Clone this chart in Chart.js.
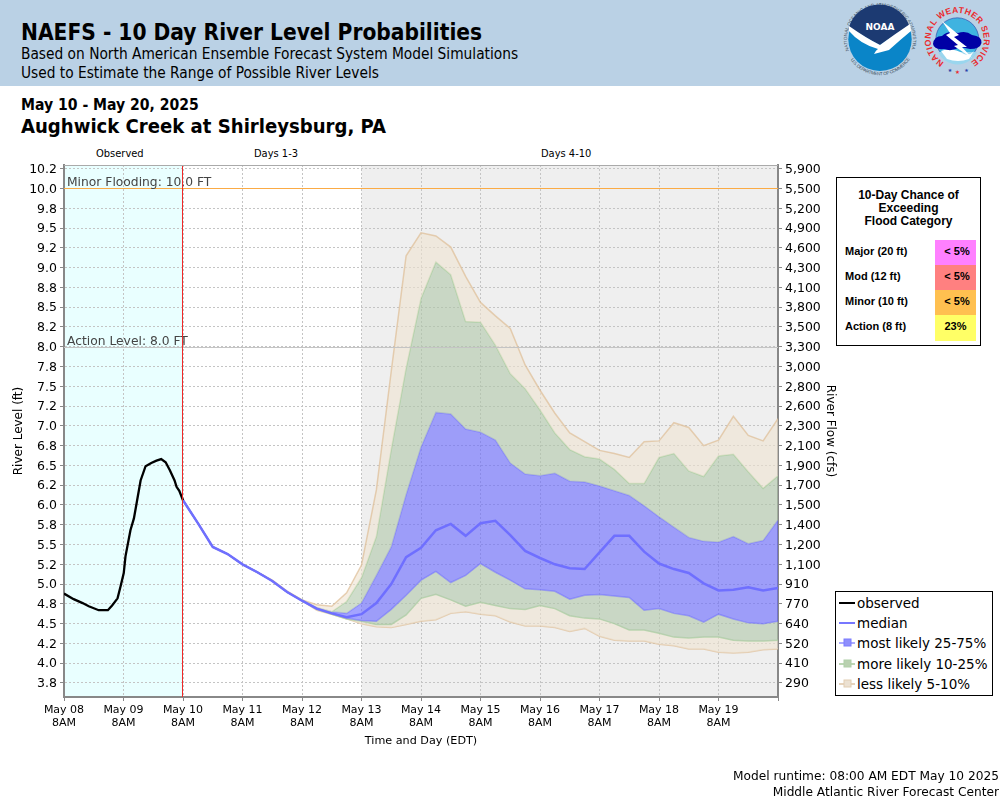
<!DOCTYPE html>
<html>
<head>
<meta charset="utf-8">
<script src="https://cdn.jsdelivr.net/npm/chart.js@4"></script>
<style>
  html, body { margin: 0; padding: 0; background: #fff; }
  #page { position: relative; width: 1000px; height: 800px; overflow: hidden; font-family: "DejaVu Sans", sans-serif; color: #000; }
  #page > div, #page > svg, #page > canvas { position: absolute; }
  #banner { left: 0; top: 0; width: 1000px; height: 86px; background: #bad1e5; }
  .t { white-space: nowrap; line-height: 1; }
  .cond { font-family: "DejaVu Sans Condensed", "DejaVu Sans", sans-serif; font-stretch: condensed; }
  #chance { left: 836px; top: 177px; width: 143px; height: 167px; border: 1px solid #000; background: #fff; font-family: "Liberation Sans", Arial, sans-serif; font-weight: bold; }
  #chance .head { position: absolute; left: 0; width: 100%; top: 11px; text-align: center; font-size: 12px; line-height: 13px; }
  #chance .lab { position: absolute; left: 8px; font-size: 11px; line-height: 23px; height: 25px; }
  #chance .val { position: absolute; left: 98px; width: 41px; height: 25px; font-size: 11px; line-height: 23px; text-align: center; text-indent: 3px; }
  #legend { left: 835px; top: 591px; width: 156px; height: 103px; border: 1px solid #000; background: #fff; font-size: 13.5px; }
  #legend .row { position: absolute; left: 3px; height: 20px; line-height: 20px; white-space: nowrap; }
  #legend svg { position: absolute; left: 0; top: 2px; }
  #legend span { position: absolute; left: 18px; }
</style>
</head>
<body>
<div id="page">
  <div id="banner"></div>
  <div class="t cond" style="left:21px;top:21px;font-size:22.5px;font-weight:bold">NAEFS - 10 Day River Level Probabilities</div>
  <div class="t cond" style="left:21px;top:47px;font-size:15.3px">Based on North American Ensemble Forecast System Model Simulations</div>
  <div class="t cond" style="left:21px;top:66px;font-size:15.3px">Used to Estimate the Range of Possible River Levels</div>

  <svg style="left:840px;top:0" width="160" height="86" viewBox="0 0 160 86">
    <defs>
      <path id="noaaTop" d="M9 50.6 A33 33 0 1 1 71.9 47.8"/>
      <path id="noaaBottom" d="M10.5 59.9 A36 36 0 0 0 69.5 59.9"/>
      <path id="nwsRing" d="M104 62.3 A26.5 26.5 0 1 1 130.5 62.3"/>
    </defs>
    <text font-family="Liberation Sans" font-size="4.6" fill="#44525f"><textPath href="#noaaTop" textLength="136">NATIONAL OCEANIC AND ATMOSPHERIC ADMINISTRATION</textPath></text>
    <text font-family="Liberation Sans" font-size="4.6" fill="#44525f"><textPath href="#noaaBottom" textLength="70">U.S. DEPARTMENT OF COMMERCE</textPath></text>
    <circle cx="40" cy="39.3" r="31.7" fill="#0a85c8"/>
    <path d="M9 27 A31.7 31.7 0 0 1 70 28 Q55 34 40 45 Q26 38 9 27 Z" fill="#1c3a72"/>
    <path d="M9 26 Q26 38 40 45 Q55 34 70 24 L71 31 Q60 40 49 50 L34 54 Q36 50 38 49 Q20 44 9 31 Z" fill="#fff"/>
    <text x="40" y="30" text-anchor="middle" font-family="DejaVu Sans" font-weight="bold" font-size="9" fill="#fff">NOAA</text>

    <text font-family="Liberation Sans" font-weight="bold" font-size="8.6" fill="#ea2a2e"><textPath href="#nwsRing" textLength="138">NATIONAL WEATHER SERVICE</textPath></text>
    <circle cx="117.3" cy="39.3" r="21.5" fill="#3fb3e0" stroke="#2a3fa8" stroke-width="0.6"/>
    <path d="M98 52 L137 52 A21.5 21.5 0 0 1 98 52 Z" fill="#9ad6ee"/>
    <path d="M101 51 Q112 47 124 54 Q130 56 134 51 L129 59 Q118 63 107 59 Z" fill="#fff"/>
    <path d="M93 44 Q94 36 102 36 Q108 30 118 33 Q126 30 132 35 Q142 36 141.5 43 Q140 49 130 49 L120 47 Q112 52 104 49 Q94 50 93 44 Z" fill="#0000a5"/>
    <path d="M102 21 L119 35 L114 37 L127 47 L122 47 L132 58 L114 46 L118 45 L106 35 L110 33 Z" fill="#fff"/>
    <text x="110" y="72" font-size="5" fill="#2a3fa8" text-anchor="middle">★</text>
    <text x="117.5" y="73.5" font-size="5.5" fill="#ea2a2e" text-anchor="middle">★</text>
    <text x="126.5" y="72" font-size="5" fill="#2a3fa8" text-anchor="middle">★</text>
  </svg>

  <div class="t cond" style="left:21px;top:98px;font-size:15.6px;font-weight:bold">May 10 - May 20, 2025</div>
  <div class="t cond" style="left:21px;top:116px;font-size:20.1px;font-weight:bold">Aughwick Creek at Shirleysburg, PA</div>

  <div class="t cond" style="left:96px;top:148px;font-size:11px">Observed</div>
  <div class="t cond" style="left:254px;top:148px;font-size:11px">Days 1-3</div>
  <div class="t cond" style="left:541px;top:148px;font-size:11px">Days 4-10</div>

  <canvas id="chart" width="1000" height="800" style="left:0;top:0;width:1000px;height:800px"></canvas>

  <div id="chance">
    <div class="head">10-Day Chance of<br>Exceeding<br>Flood Category</div>
    <div class="lab" style="top:62px">Major (20 ft)</div><div class="val" style="top:62px;background:#ff80ff">&lt; 5%</div>
    <div class="lab" style="top:87px">Mod (12 ft)</div><div class="val" style="top:87px;background:#ff8080">&lt; 5%</div>
    <div class="lab" style="top:112px">Minor (10 ft)</div><div class="val" style="top:112px;background:#ffc050">&lt; 5%</div>
    <div class="lab" style="top:137px">Action (8 ft)</div><div class="val" style="top:137px;height:26px;background:#ffff66;text-indent:0">23%</div>
  </div>

  <div id="legend">
    <div class="row" style="top:1px"><svg width="16" height="16"><line x1="0" y1="8" x2="16" y2="8" stroke="#000" stroke-width="2"/></svg><span>observed</span></div>
    <div class="row" style="top:21px"><svg width="16" height="16"><line x1="0" y1="8" x2="16" y2="8" stroke="#7777ff" stroke-width="2"/></svg><span>median</span></div>
    <div class="row" style="top:41px"><svg width="16" height="16"><line x1="0" y1="8" x2="16" y2="8" stroke="#aaaaff" stroke-width="2"/><rect x="5" y="4" width="7" height="7" fill="#8f8ffc" stroke="#7c7cff"/></svg><span>most likely 25-75%</span></div>
    <div class="row" style="top:62px"><svg width="16" height="16"><line x1="0" y1="8" x2="16" y2="8" stroke="#bcd6b4" stroke-width="2"/><rect x="5" y="4" width="7" height="7" fill="#b9d1b0" stroke="#b0cfa8"/></svg><span>more likely 10-25%</span></div>
    <div class="row" style="top:82px"><svg width="16" height="16"><line x1="0" y1="8" x2="16" y2="8" stroke="#e6d3bc" stroke-width="2"/><rect x="5" y="4" width="7" height="7" fill="#ece1d2" stroke="#e2cdb2"/></svg><span>less likely 5-10%</span></div>
  </div>

  <div class="t" style="right:1px;top:770px;font-size:12.2px">Model runtime: 08:00 AM EDT May 10 2025</div>
  <div class="t" style="right:1px;top:786px;font-size:12.2px">Middle Atlantic River Forecast Center</div>
</div>

<script>
const dayLabels = ["May 08", "May 09", "May 10", "May 11", "May 12", "May 13", "May 14", "May 15", "May 16", "May 17", "May 18", "May 19", ""];
const levelTicks = [10.25, 10, 9.75, 9.5, 9.25, 9, 8.75, 8.5, 8.25, 8, 7.75, 7.5, 7.25, 7, 6.75, 6.5, 6.25, 6, 5.75, 5.5, 5.25, 5, 4.75, 4.5, 4.25, 4, 3.75];
const levelLabels = ["10.2", "10.0", "9.8", "9.5", "9.2", "9.0", "8.8", "8.5", "8.2", "8.0", "7.8", "7.5", "7.2", "7.0", "6.8", "6.5", "6.2", "6.0", "5.8", "5.5", "5.2", "5.0", "4.8", "4.5", "4.2", "4.0", "3.8"];
const flowLabels = ["5,900", "5,500", "5,200", "4,900", "4,600", "4,300", "4,100", "3,800", "3,500", "3,300", "3,000", "2,800", "2,600", "2,300", "2,100", "1,900", "1,700", "1,500", "1,400", "1,200", "1,100", "910", "770", "640", "520", "410", "290"];

// hours after May 08 8AM
const obsHours = [0, 3.9, 7.5, 10, 14, 17.7, 19.4, 21.6, 22.8, 24.1, 24.8, 26.8, 28.2, 29.5, 30.9, 32.9, 35.2, 37.3, 39.2, 41, 42.7, 44.6, 45.4, 46.5, 48];
const observed = [4.88, 4.81, 4.76, 4.72, 4.67, 4.67, 4.73, 4.82, 4.97, 5.14, 5.35, 5.68, 5.83, 6.06, 6.31, 6.49, 6.53, 6.56, 6.58, 6.54, 6.44, 6.31, 6.23, 6.18, 6.06];

const fcstHours = [48, 54, 60, 66, 72, 78, 84, 90, 96, 102, 108, 114, 120, 126, 132, 138, 144, 150, 156, 162, 168, 174, 180, 186, 192, 198, 204, 210, 216, 222, 228, 234, 240, 246, 252, 258, 264, 270, 276, 282, 288];
const median = [6.06, 5.77, 5.47, 5.38, 5.25, 5.15, 5.04, 4.90, 4.79, 4.69, 4.63, 4.58, 4.62, 4.76, 5.00, 5.34, 5.46, 5.68, 5.76, 5.61, 5.77, 5.80, 5.62, 5.42, 5.33, 5.25, 5.20, 5.19, 5.40, 5.61, 5.61, 5.41, 5.26, 5.19, 5.14, 5.01, 4.92, 4.93, 4.96, 4.92, 4.95];
const p75 = [6.06, 5.77, 5.47, 5.38, 5.25, 5.15, 5.04, 4.90, 4.79, 4.70, 4.65, 4.63, 4.76, 5.11, 5.47, 6.13, 6.73, 7.17, 7.15, 6.96, 6.92, 6.82, 6.53, 6.39, 6.37, 6.40, 6.30, 6.29, 6.24, 6.18, 6.12, 5.99, 5.85, 5.72, 5.59, 5.54, 5.53, 5.60, 5.51, 5.55, 5.81];
const p25 = [6.06, 5.77, 5.47, 5.38, 5.25, 5.15, 5.04, 4.90, 4.79, 4.68, 4.63, 4.57, 4.54, 4.53, 4.68, 4.86, 5.05, 5.16, 5.02, 5.11, 5.26, 5.15, 5.05, 4.94, 4.93, 4.91, 4.81, 4.86, 4.87, 4.85, 4.83, 4.67, 4.69, 4.63, 4.60, 4.52, 4.62, 4.56, 4.51, 4.50, 4.53];
const p90 = [6.06, 5.77, 5.47, 5.38, 5.25, 5.15, 5.04, 4.90, 4.80, 4.70, 4.65, 4.78, 5.08, 5.60, 6.70, 7.73, 8.61, 9.07, 8.91, 8.32, 8.31, 8.02, 7.66, 7.47, 7.20, 6.91, 6.70, 6.61, 6.58, 6.45, 6.27, 6.27, 6.60, 6.65, 6.43, 6.36, 6.62, 6.64, 6.42, 6.21, 6.37];
const p10 = [6.06, 5.77, 5.47, 5.38, 5.25, 5.15, 5.04, 4.90, 4.79, 4.68, 4.62, 4.56, 4.53, 4.49, 4.49, 4.61, 4.82, 4.87, 4.80, 4.72, 4.77, 4.73, 4.69, 4.68, 4.73, 4.69, 4.60, 4.57, 4.56, 4.50, 4.42, 4.42, 4.38, 4.33, 4.32, 4.33, 4.33, 4.29, 4.28, 4.28, 4.29];
const p95 = [6.06, 5.77, 5.47, 5.38, 5.25, 5.15, 5.05, 4.91, 4.80, 4.74, 4.72, 4.89, 5.24, 6.19, 7.69, 9.15, 9.44, 9.40, 9.26, 8.89, 8.56, 8.39, 8.23, 7.77, 7.45, 7.16, 6.91, 6.80, 6.69, 6.65, 6.60, 6.80, 6.81, 7.04, 6.98, 6.75, 6.82, 7.12, 6.88, 6.81, 7.09];
const p5 = [6.06, 5.77, 5.47, 5.38, 5.25, 5.15, 5.04, 4.90, 4.79, 4.67, 4.62, 4.56, 4.50, 4.46, 4.45, 4.49, 4.53, 4.55, 4.63, 4.65, 4.62, 4.60, 4.52, 4.47, 4.47, 4.45, 4.40, 4.44, 4.34, 4.29, 4.28, 4.28, 4.24, 4.22, 4.18, 4.18, 4.14, 4.13, 4.14, 4.17, 4.18];

const OBS_END = 48;
const GREY_START = 120;
const MINOR_LEVEL = 10;
const ACTION_LEVEL = 8;
const LEVEL_MIN = 3.573;
const LEVEL_MAX = 10.297;

function pts(hours, vals) {
  return hours.map((h, i) => ({ x: h, y: vals[i] }));
}

function band(label, vals, border, bg) {
  return {
    label,
    data: pts(fcstHours, vals),
    borderColor: border,
    borderWidth: 1.5,
    backgroundColor: bg || "transparent",
    fill: bg ? "+1" : false,
    pointRadius: 0,
    tension: 0,
  };
}

const TAN_LINE = "rgba(222,190,150,0.7)";
const GREEN_LINE = "rgba(165,205,155,0.7)";
const BLUE_LINE = "rgba(110,110,255,0.5)";
const TAN_FILL = "rgba(238,226,208,0.6)";
const GREEN_FILL = "rgba(175,198,168,0.6)";
const BLUE_FILL = "rgba(102,102,255,0.6)";

// shaded periods go under the grid, flood lines over the bands
const periods = {
  id: "periods",
  beforeDraw(chart) {
    const { ctx, chartArea: a, scales: { x } } = chart;
    ctx.save();
    ctx.fillStyle = "#e9ffff";
    ctx.fillRect(a.left, a.top, x.getPixelForValue(OBS_END) - a.left, a.height);
    ctx.fillStyle = "#efefef";
    const gx = x.getPixelForValue(GREY_START);
    ctx.fillRect(gx, a.top, a.right - gx, a.height);
    ctx.restore();
  },
  afterDatasetsDraw(chart) {
    const { ctx, chartArea: a, scales: { x, y } } = chart;
    const hline = (val, color, text) => {
      const py = Math.round(y.getPixelForValue(val)) + 0.5;
      ctx.strokeStyle = color;
      ctx.lineWidth = 1;
      ctx.beginPath();
      ctx.moveTo(a.left, py);
      ctx.lineTo(a.right, py);
      ctx.stroke();
      ctx.fillStyle = "#444";
      ctx.font = '12.3px "DejaVu Sans"';
      ctx.textBaseline = "alphabetic";
      ctx.fillText(text, a.left + 3, py - 2.5);
    };
    ctx.save();
    hline(MINOR_LEVEL, "#fbab45", "Minor Flooding: 10.0 FT");
    hline(ACTION_LEVEL, "#c4c4c4", "Action Level: 8.0 FT");
    const rx = Math.floor(x.getPixelForValue(OBS_END)) - 0.5;
    ctx.strokeStyle = "#f02828";
    ctx.beginPath();
    ctx.moveTo(rx, a.top);
    ctx.lineTo(rx, a.bottom);
    ctx.stroke();
    // top edge of the plot box is lighter than the axes
    ctx.strokeStyle = "#aaa";
    ctx.beginPath();
    ctx.moveTo(a.left, a.top + 0.5);
    ctx.lineTo(a.right, a.top + 0.5);
    ctx.stroke();
    ctx.restore();
  },
};

const gridStyle = { color: "#c4c4c4", lineWidth: 1, drawTicks: true, tickLength: 4, tickColor: "#888" };
const borderStyle = { display: true, color: "#888", width: 2, dash: [] };
const tickFont = { family: "DejaVu Sans", size: 12.5 };
const titleFont = { family: "DejaVu Sans", size: 12 };

function setLevelTicks(axis) {
  axis.ticks = levelTicks.map((v) => ({ value: v }));
}

new Chart(document.getElementById("chart"), {
  type: "line",
  data: {
    datasets: [
      { label: "observed", data: pts(obsHours, observed), borderColor: "#000", borderWidth: 2.3, pointRadius: 0, fill: false, tension: 0 },
      { label: "median", data: pts(fcstHours, median), borderColor: "#6f6fff", borderWidth: 2.5, pointRadius: 0, fill: false, tension: 0 },
      band("95", p95, TAN_LINE, TAN_FILL),
      band("90", p90, GREEN_LINE, GREEN_FILL),
      band("75", p75, BLUE_LINE, BLUE_FILL),
      band("25", p25, BLUE_LINE, GREEN_FILL),
      band("10", p10, GREEN_LINE, TAN_FILL),
      band("5", p5, TAN_LINE),
    ],
  },
  plugins: [periods],
  options: {
    responsive: false,
    animation: false,
    devicePixelRatio: 1,
    layout: { padding: { left: 12, right: 163, top: 165, bottom: 52 } },
    plugins: { legend: { display: false }, tooltip: { enabled: false } },
    scales: {
      x: {
        type: "linear",
        min: 0,
        max: 288,
        afterFit(axis) { axis.height = 51; },
        ticks: {
          stepSize: 24,
          autoSkip: false,
          maxRotation: 0,
          padding: 3,
          color: "#000",
          font: { family: "DejaVu Sans", size: 11, lineHeight: 1.15 },
          callback(v, i) { return dayLabels[i] ? [dayLabels[i], "8AM"] : ""; },
        },
        grid: gridStyle,
        border: { ...borderStyle, dash: [2, 2] },
        title: { display: true, text: "Time and Day (EDT)", color: "#000", font: { family: "DejaVu Sans", size: 11.2 }, padding: { top: 6, bottom: 0 } },
      },
      y: {
        position: "left",
        min: LEVEL_MIN,
        max: LEVEL_MAX,
        afterBuildTicks: setLevelTicks,
        afterFit(axis) { axis.width = 52; },
        ticks: { autoSkip: false, padding: 3, labelOffset: 1, color: "#000", font: tickFont, callback(v, i) { return levelLabels[i]; } },
        grid: gridStyle,
        border: { ...borderStyle, dash: [2, 2] },
        title: { display: true, text: "River Level (ft)", color: "#000", font: titleFont, padding: { top: 0, bottom: 0 } },
      },
      yFlow: {
        position: "right",
        min: LEVEL_MIN,
        max: LEVEL_MAX,
        afterBuildTicks: setLevelTicks,
        afterFit(axis) { axis.width = 59; },
        ticks: { autoSkip: false, padding: 3, labelOffset: 1, color: "#000", font: tickFont, callback(v, i) { return flowLabels[i]; } },
        grid: { drawOnChartArea: false, tickLength: 4, tickColor: "#888" },
        border: borderStyle,
        title: { display: true, text: "River Flow (cfs)", color: "#000", font: titleFont, padding: { top: 0, bottom: 0 } },
      },
    },
  },
});
</script>
</body>
</html>
